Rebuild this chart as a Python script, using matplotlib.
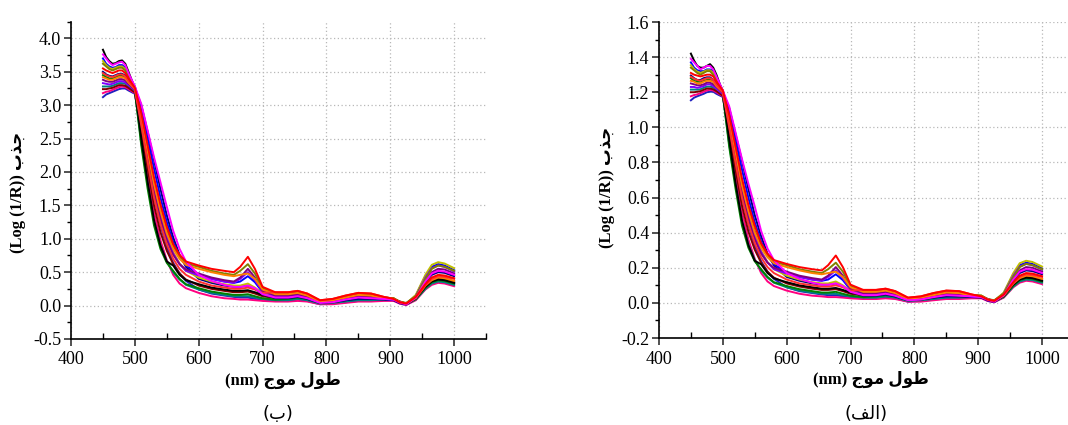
import matplotlib
matplotlib.use('Agg')
import matplotlib.pyplot as plt
from matplotlib.ticker import MultipleLocator

plt.rcParams['font.family'] = ['Liberation Serif', 'DejaVu Sans']
plt.rcParams['axes.unicode_minus'] = False

# wavelength grid (nm) the spectra were read at
wavelength = [450, 455, 460, 465, 470, 475, 480, 485, 490,
              500, 510, 520, 530, 540, 550, 560, 570, 580,
              600, 620, 640, 655, 665, 677, 688, 700,
              720, 740, 755, 770, 790, 810, 830, 850, 870, 890,
              905, 915, 925, 940, 955, 965, 975, 985, 1000]

# ---- panel (b): Log(1/R) ----
b_black = [3.83, 3.72, 3.66, 3.62, 3.63, 3.66, 3.67, 3.62, 3.50,
           3.25, 2.50, 1.85, 1.28, 0.90, 0.66, 0.60, 0.46, 0.38,
           0.32, 0.27, 0.24, 0.22, 0.22, 0.23, 0.20, 0.16,
           0.13, 0.13, 0.15, 0.12, 0.05, 0.06, 0.10, 0.13, 0.12, 0.11,
           0.10, 0.06, 0.03, 0.11, 0.28, 0.36, 0.39, 0.38, 0.34]
b_red = [3.55, 3.52, 3.50, 3.48, 3.50, 3.52, 3.52, 3.48, 3.40,
         3.26, 2.88, 2.40, 1.92, 1.52, 1.18, 0.92, 0.76, 0.66,
         0.60, 0.55, 0.52, 0.50, 0.58, 0.73, 0.55, 0.28,
         0.20, 0.20, 0.22, 0.18, 0.08, 0.10, 0.15, 0.19, 0.18, 0.13,
         0.10, 0.05, 0.03, 0.13, 0.32, 0.42, 0.46, 0.45, 0.41]
b_blue = [3.70, 3.62, 3.58, 3.56, 3.57, 3.60, 3.60, 3.56, 3.45,
          3.28, 2.95, 2.50, 2.05, 1.62, 1.25, 0.95, 0.74, 0.60,
          0.47, 0.40, 0.36, 0.34, 0.36, 0.44, 0.35, 0.20,
          0.14, 0.14, 0.16, 0.12, 0.05, 0.06, 0.10, 0.13, 0.12, 0.10,
          0.09, 0.04, 0.03, 0.15, 0.44, 0.58, 0.62, 0.60, 0.53]
b_magenta = [3.76, 3.70, 3.64, 3.60, 3.62, 3.64, 3.65, 3.60, 3.48,
             3.28, 3.02, 2.62, 2.22, 1.85, 1.48, 1.12, 0.85, 0.66,
             0.46, 0.37, 0.31, 0.28, 0.28, 0.30, 0.26, 0.17,
             0.12, 0.12, 0.14, 0.11, 0.04, 0.05, 0.09, 0.12, 0.11, 0.10,
             0.09, 0.05, 0.02, 0.12, 0.36, 0.48, 0.52, 0.51, 0.46]
b_olive = [3.62, 3.58, 3.54, 3.52, 3.54, 3.56, 3.56, 3.52, 3.42,
           3.26, 2.85, 2.35, 1.85, 1.45, 1.12, 0.88, 0.72, 0.63,
           0.58, 0.52, 0.48, 0.46, 0.52, 0.62, 0.48, 0.26,
           0.18, 0.18, 0.20, 0.16, 0.07, 0.09, 0.13, 0.17, 0.16, 0.12,
           0.11, 0.06, 0.04, 0.14, 0.40, 0.55, 0.60, 0.58, 0.52]
b_navy = [3.50, 3.46, 3.44, 3.43, 3.45, 3.47, 3.47, 3.44, 3.37,
          3.25, 3.00, 2.60, 2.18, 1.75, 1.35, 1.02, 0.76, 0.58,
          0.40, 0.34, 0.30, 0.28, 0.28, 0.30, 0.25, 0.17,
          0.11, 0.11, 0.13, 0.10, 0.04, 0.05, 0.08, 0.10, 0.10, 0.09,
          0.08, 0.04, 0.02, 0.12, 0.35, 0.46, 0.50, 0.49, 0.44]
b_green = [3.45, 3.42, 3.40, 3.40, 3.42, 3.44, 3.44, 3.41, 3.35,
           3.22, 2.40, 1.75, 1.20, 0.85, 0.64, 0.52, 0.40, 0.32,
           0.26, 0.21, 0.18, 0.16, 0.16, 0.17, 0.14, 0.11,
           0.09, 0.10, 0.12, 0.10, 0.04, 0.05, 0.08, 0.11, 0.11, 0.12,
           0.11, 0.05, 0.03, 0.10, 0.27, 0.35, 0.38, 0.37, 0.33]
b_orange = [3.42, 3.40, 3.38, 3.38, 3.40, 3.42, 3.42, 3.40, 3.34,
            3.24, 2.82, 2.32, 1.82, 1.42, 1.08, 0.85, 0.70, 0.61,
            0.55, 0.50, 0.46, 0.44, 0.46, 0.48, 0.40, 0.24,
            0.17, 0.17, 0.19, 0.15, 0.06, 0.08, 0.12, 0.16, 0.15, 0.11,
            0.10, 0.05, 0.03, 0.12, 0.30, 0.38, 0.42, 0.41, 0.37]
b_purple = [3.38, 3.36, 3.35, 3.35, 3.37, 3.39, 3.39, 3.37, 3.32,
            3.23, 2.75, 2.22, 1.70, 1.30, 0.98, 0.76, 0.62, 0.54,
            0.48, 0.42, 0.38, 0.36, 0.42, 0.55, 0.42, 0.22,
            0.15, 0.15, 0.17, 0.13, 0.05, 0.07, 0.11, 0.14, 0.13, 0.11,
            0.09, 0.04, 0.02, 0.13, 0.38, 0.50, 0.55, 0.54, 0.48]
b_violet = [3.33, 3.32, 3.31, 3.32, 3.34, 3.36, 3.36, 3.34, 3.30,
            3.22, 2.80, 2.28, 1.78, 1.36, 1.02, 0.78, 0.62, 0.52,
            0.45, 0.40, 0.36, 0.34, 0.40, 0.50, 0.38, 0.21,
            0.14, 0.14, 0.16, 0.12, 0.05, 0.06, 0.10, 0.13, 0.12, 0.10,
            0.09, 0.04, 0.02, 0.14, 0.42, 0.56, 0.60, 0.58, 0.51]
b_cyan = [3.28, 3.28, 3.28, 3.29, 3.31, 3.33, 3.33, 3.32, 3.28,
          3.20, 2.45, 1.82, 1.26, 0.90, 0.66, 0.50, 0.39, 0.31,
          0.24, 0.19, 0.16, 0.14, 0.14, 0.14, 0.12, 0.10,
          0.08, 0.08, 0.10, 0.08, 0.03, 0.04, 0.06, 0.08, 0.08, 0.09,
          0.09, 0.04, 0.02, 0.09, 0.25, 0.33, 0.36, 0.35, 0.31]
b_wine = [3.24, 3.24, 3.25, 3.26, 3.28, 3.30, 3.30, 3.29, 3.26,
          3.19, 2.62, 2.05, 1.50, 1.10, 0.82, 0.62, 0.48, 0.39,
          0.30, 0.25, 0.22, 0.20, 0.20, 0.21, 0.18, 0.14,
          0.11, 0.11, 0.13, 0.10, 0.04, 0.05, 0.08, 0.11, 0.10, 0.10,
          0.09, 0.04, 0.02, 0.10, 0.29, 0.38, 0.41, 0.40, 0.36]
b_pink = [3.18, 3.20, 3.21, 3.23, 3.25, 3.27, 3.28, 3.27, 3.24,
          3.18, 2.55, 1.95, 1.40, 0.98, 0.68, 0.46, 0.33, 0.26,
          0.19, 0.14, 0.11, 0.10, 0.09, 0.09, 0.08, 0.07,
          0.06, 0.06, 0.07, 0.06, 0.02, 0.02, 0.04, 0.06, 0.06, 0.07,
          0.07, 0.03, 0.01, 0.08, 0.24, 0.31, 0.34, 0.33, 0.29]
b_royal = [3.12, 3.16, 3.18, 3.20, 3.22, 3.24, 3.25, 3.25, 3.22,
           3.17, 2.70, 2.15, 1.62, 1.20, 0.88, 0.64, 0.48, 0.37,
           0.24, 0.18, 0.15, 0.13, 0.12, 0.12, 0.10, 0.08,
           0.07, 0.07, 0.08, 0.07, 0.02, 0.03, 0.05, 0.07, 0.07, 0.08,
           0.08, 0.03, 0.01, 0.09, 0.27, 0.35, 0.38, 0.37, 0.33]
b_yellow = [3.66, 3.60, 3.56, 3.54, 3.56, 3.58, 3.58, 3.54, 3.44,
            3.27, 2.80, 2.28, 1.78, 1.38, 1.05, 0.80, 0.63, 0.52,
            0.42, 0.36, 0.32, 0.30, 0.30, 0.33, 0.27, 0.18,
            0.13, 0.13, 0.15, 0.12, 0.05, 0.06, 0.10, 0.13, 0.12, 0.12,
            0.11, 0.05, 0.03, 0.16, 0.46, 0.61, 0.65, 0.63, 0.56]
b_red2 = [3.48, 3.45, 3.43, 3.42, 3.44, 3.46, 3.46, 3.43, 3.36,
          3.24, 2.70, 2.15, 1.62, 1.22, 0.92, 0.70, 0.55, 0.46,
          0.36, 0.30, 0.27, 0.25, 0.25, 0.27, 0.24, 0.19,
          0.20, 0.20, 0.22, 0.18, 0.08, 0.10, 0.15, 0.19, 0.18, 0.13,
          0.10, 0.05, 0.03, 0.11, 0.30, 0.40, 0.44, 0.43, 0.40]

# ---- panel (alef): Log(1/R) ----
a_black = [1.42, 1.38, 1.35, 1.34, 1.34, 1.35, 1.36, 1.34, 1.30,
           1.20, 0.93, 0.68, 0.47, 0.33, 0.24, 0.22, 0.17, 0.14,
           0.118, 0.100, 0.089, 0.081, 0.081, 0.085, 0.074, 0.059,
           0.048, 0.048, 0.056, 0.044, 0.019, 0.022, 0.037, 0.048, 0.044, 0.041,
           0.037, 0.022, 0.011, 0.041, 0.104, 0.133, 0.144, 0.141, 0.126]
a_red = [1.31, 1.30, 1.295, 1.29, 1.295, 1.30, 1.30, 1.29, 1.26,
         1.21, 1.07, 0.89, 0.71, 0.56, 0.44, 0.34, 0.28, 0.244,
         0.222, 0.204, 0.192, 0.185, 0.215, 0.270, 0.204, 0.104,
         0.074, 0.074, 0.081, 0.067, 0.030, 0.037, 0.056, 0.070, 0.067, 0.048,
         0.037, 0.019, 0.011, 0.048, 0.118, 0.155, 0.170, 0.167, 0.152]
a_blue = [1.37, 1.34, 1.325, 1.32, 1.32, 1.33, 1.33, 1.32, 1.28,
          1.21, 1.09, 0.925, 0.76, 0.60, 0.46, 0.35, 0.27, 0.22,
          0.174, 0.148, 0.133, 0.126, 0.133, 0.163, 0.130, 0.074,
          0.052, 0.052, 0.059, 0.044, 0.019, 0.022, 0.037, 0.048, 0.044, 0.037,
          0.033, 0.015, 0.011, 0.056, 0.163, 0.215, 0.229, 0.222, 0.196]
a_magenta = [1.39, 1.37, 1.35, 1.33, 1.34, 1.35, 1.35, 1.33, 1.29,
             1.21, 1.12, 0.97, 0.82, 0.68, 0.55, 0.41, 0.31, 0.244,
             0.170, 0.137, 0.115, 0.104, 0.104, 0.111, 0.096, 0.063,
             0.044, 0.044, 0.052, 0.041, 0.015, 0.019, 0.033, 0.044, 0.041, 0.037,
             0.033, 0.019, 0.007, 0.044, 0.133, 0.178, 0.192, 0.189, 0.170]
a_olive = [1.34, 1.325, 1.31, 1.30, 1.31, 1.32, 1.32, 1.30, 1.265,
           1.21, 1.055, 0.87, 0.685, 0.54, 0.41, 0.33, 0.27, 0.233,
           0.215, 0.192, 0.178, 0.170, 0.192, 0.229, 0.178, 0.096,
           0.067, 0.067, 0.074, 0.059, 0.026, 0.033, 0.048, 0.063, 0.059, 0.044,
           0.041, 0.022, 0.015, 0.052, 0.148, 0.204, 0.222, 0.215, 0.192]
a_navy = [1.295, 1.28, 1.27, 1.27, 1.28, 1.285, 1.285, 1.27, 1.25,
          1.20, 1.11, 0.96, 0.81, 0.65, 0.50, 0.38, 0.28, 0.215,
          0.148, 0.126, 0.111, 0.104, 0.104, 0.111, 0.093, 0.063,
          0.041, 0.041, 0.048, 0.037, 0.015, 0.019, 0.030, 0.037, 0.037, 0.033,
          0.030, 0.015, 0.007, 0.044, 0.130, 0.170, 0.185, 0.181, 0.163]
a_green = [1.28, 1.265, 1.26, 1.26, 1.265, 1.27, 1.27, 1.26, 1.24,
           1.19, 0.89, 0.65, 0.44, 0.315, 0.237, 0.192, 0.148, 0.118,
           0.096, 0.078, 0.067, 0.059, 0.059, 0.063, 0.052, 0.041,
           0.033, 0.037, 0.044, 0.037, 0.015, 0.019, 0.030, 0.041, 0.041, 0.044,
           0.041, 0.019, 0.011, 0.037, 0.100, 0.130, 0.141, 0.137, 0.122]
a_orange = [1.265, 1.26, 1.25, 1.25, 1.26, 1.265, 1.265, 1.26, 1.235,
            1.20, 1.045, 0.86, 0.67, 0.525, 0.40, 0.315, 0.26, 0.226,
            0.204, 0.185, 0.170, 0.163, 0.170, 0.178, 0.148, 0.089,
            0.063, 0.063, 0.070, 0.056, 0.022, 0.030, 0.044, 0.059, 0.056, 0.041,
            0.037, 0.019, 0.011, 0.044, 0.111, 0.141, 0.155, 0.152, 0.137]
a_purple = [1.25, 1.245, 1.24, 1.24, 1.245, 1.255, 1.255, 1.245, 1.23,
            1.195, 1.02, 0.82, 0.63, 0.48, 0.363, 0.28, 0.23, 0.20,
            0.178, 0.155, 0.141, 0.133, 0.155, 0.204, 0.155, 0.081,
            0.056, 0.056, 0.063, 0.048, 0.019, 0.026, 0.041, 0.052, 0.048, 0.041,
            0.033, 0.015, 0.007, 0.048, 0.141, 0.185, 0.204, 0.200, 0.178]
a_violet = [1.23, 1.23, 1.225, 1.23, 1.235, 1.245, 1.245, 1.235, 1.22,
            1.19, 1.035, 0.845, 0.66, 0.50, 0.38, 0.29, 0.23, 0.192,
            0.167, 0.148, 0.133, 0.126, 0.148, 0.185, 0.141, 0.078,
            0.052, 0.052, 0.059, 0.044, 0.019, 0.022, 0.037, 0.048, 0.044, 0.037,
            0.033, 0.015, 0.007, 0.052, 0.155, 0.207, 0.222, 0.215, 0.189]
a_cyan = [1.215, 1.215, 1.215, 1.217, 1.225, 1.232, 1.232, 1.228, 1.215,
          1.185, 0.906, 0.673, 0.466, 0.333, 0.244, 0.185, 0.144, 0.115,
          0.089, 0.070, 0.059, 0.052, 0.052, 0.052, 0.044, 0.037,
          0.030, 0.030, 0.037, 0.030, 0.011, 0.015, 0.022, 0.030, 0.030, 0.033,
          0.033, 0.015, 0.007, 0.033, 0.093, 0.122, 0.133, 0.130, 0.115]
a_wine = [1.20, 1.20, 1.203, 1.206, 1.214, 1.221, 1.221, 1.217, 1.206,
          1.18, 0.97, 0.758, 0.555, 0.407, 0.303, 0.229, 0.178, 0.144,
          0.111, 0.093, 0.081, 0.074, 0.074, 0.078, 0.067, 0.052,
          0.041, 0.041, 0.048, 0.037, 0.015, 0.019, 0.030, 0.041, 0.037, 0.037,
          0.033, 0.015, 0.007, 0.037, 0.107, 0.141, 0.152, 0.148, 0.133]
a_pink = [1.177, 1.184, 1.188, 1.195, 1.203, 1.21, 1.214, 1.21, 1.20,
          1.177, 0.944, 0.722, 0.518, 0.363, 0.252, 0.170, 0.122, 0.096,
          0.070, 0.052, 0.041, 0.037, 0.033, 0.033, 0.030, 0.026,
          0.022, 0.022, 0.026, 0.022, 0.007, 0.007, 0.015, 0.022, 0.022, 0.026,
          0.026, 0.011, 0.004, 0.030, 0.089, 0.115, 0.126, 0.122, 0.107]
a_royal = [1.154, 1.169, 1.177, 1.184, 1.191, 1.20, 1.203, 1.203, 1.191,
           1.173, 1.00, 0.796, 0.60, 0.444, 0.326, 0.237, 0.178, 0.137,
           0.089, 0.067, 0.056, 0.048, 0.044, 0.044, 0.037, 0.030,
           0.026, 0.026, 0.030, 0.026, 0.007, 0.011, 0.019, 0.026, 0.026, 0.030,
           0.030, 0.011, 0.004, 0.033, 0.100, 0.130, 0.141, 0.137, 0.122]
a_yellow = [1.354, 1.332, 1.317, 1.31, 1.317, 1.325, 1.325, 1.31, 1.273,
            1.21, 1.036, 0.844, 0.659, 0.511, 0.389, 0.296, 0.233, 0.192,
            0.155, 0.133, 0.118, 0.111, 0.111, 0.122, 0.100, 0.067,
            0.048, 0.048, 0.056, 0.044, 0.019, 0.022, 0.037, 0.048, 0.044, 0.044,
            0.041, 0.019, 0.011, 0.059, 0.170, 0.226, 0.240, 0.233, 0.207]
a_red2 = [1.288, 1.277, 1.27, 1.265, 1.273, 1.28, 1.28, 1.27, 1.243,
          1.20, 1.00, 0.796, 0.60, 0.451, 0.34, 0.259, 0.204, 0.170,
          0.133, 0.111, 0.100, 0.093, 0.093, 0.100, 0.089, 0.070,
          0.074, 0.074, 0.081, 0.067, 0.030, 0.037, 0.056, 0.070, 0.067, 0.048,
          0.037, 0.019, 0.011, 0.041, 0.111, 0.148, 0.163, 0.159, 0.148]

# drawing order (last on top) and the Origin-like colours
line_colors = ['#2020c0', '#ff0080', '#008080', '#800000', '#008000', '#000000',
               '#000080', '#0000ff', '#c0c000', '#8000ff', '#800080', '#808000',
               '#ff8000', '#ff3030', '#ff00ff', '#ff0000']
series_b = [b_royal, b_pink, b_cyan, b_wine, b_green, b_black,
            b_navy, b_blue, b_yellow, b_violet, b_purple, b_olive,
            b_orange, b_red2, b_magenta, b_red]
series_a = [a_royal, a_pink, a_cyan, a_wine, a_green, a_black,
            a_navy, a_blue, a_yellow, a_violet, a_purple, a_olive,
            a_orange, a_red2, a_magenta, a_red]

xlabel = '(nm) \uFE9D\uFEEE\uFEE3 \uFEDD\uFEEE\uFEC3'      # طول موج (nm)
ylabel = '(Log (1/R)) \uFE8F\uFEAC\uFE9F'                # جذب (Log (1/R))
caption_b = '(\uFE8F)'                                   # (ب)
caption_a = '(\uFED2\uFEDF\uFE8D)'                       # (الف)


def draw_panel(ax, series, ylim, ymajor, yminor, ylabel_pos):
    for values, color in zip(series, line_colors):
        ax.plot(wavelength, values, color=color, linewidth=1.4)
    ax.set_xlim(400, 1050)
    ax.set_ylim(*ylim)
    ax.xaxis.set_major_locator(MultipleLocator(100))
    ax.xaxis.set_minor_locator(MultipleLocator(50))
    ax.yaxis.set_major_locator(MultipleLocator(ymajor))
    ax.yaxis.set_minor_locator(MultipleLocator(yminor))
    ax.yaxis.set_major_formatter('{x:.1f}')
    ax.spines['top'].set_visible(False)
    ax.spines['right'].set_visible(False)
    ax.spines['left'].set_linewidth(1.2)
    ax.spines['bottom'].set_linewidth(1.2)
    ax.tick_params(which='major', direction='out', length=5, width=1.1,
                   labelsize=13, color='#222222')
    ax.tick_params(axis='x', which='major', pad=4)
    ax.tick_params(axis='y', which='major', pad=2)
    ax.tick_params(axis='x', which='minor', direction='in', length=4, width=1)
    ax.tick_params(axis='y', which='minor', direction='out', length=3, width=1)
    ax.grid(True, which='major', linestyle=(0, (1, 2)), color='#b8b8b8', linewidth=0.9)
    ax.set_axisbelow(True)
    ax.set_xlabel(xlabel, fontsize=12, fontweight='bold')
    ax.xaxis.set_label_coords(0.51, -0.13)
    ax.xaxis.label.set_va('center')
    ax.set_ylabel(ylabel, fontsize=12, fontweight='bold')
    ax.yaxis.set_label_coords(*ylabel_pos)
    ax.yaxis.label.set_va('center')


fig = plt.figure(figsize=(10.68, 4.25), dpi=100)
ax_b = fig.add_axes([0.0665, 0.2024, 0.3886, 0.7466])
ax_a = fig.add_axes([0.6170, 0.2047, 0.3886, 0.7435])

draw_panel(ax_b, series_b, (-0.5, 4.25), 0.5, 0.25, (-0.128, 0.463))
draw_panel(ax_a, series_a, (-0.2, 1.6), 0.2, 0.1, (-0.125, 0.478))

fig.text(278 / 1068, 1 - 414 / 425, caption_b, ha='center', va='center',
         fontsize=13, family=['DejaVu Sans'])
fig.text(866 / 1068, 1 - 414 / 425, caption_a, ha='center', va='center',
         fontsize=13, family=['DejaVu Sans'])

fig.savefig('out.png', dpi=100, facecolor='white')
plt.close(fig)
